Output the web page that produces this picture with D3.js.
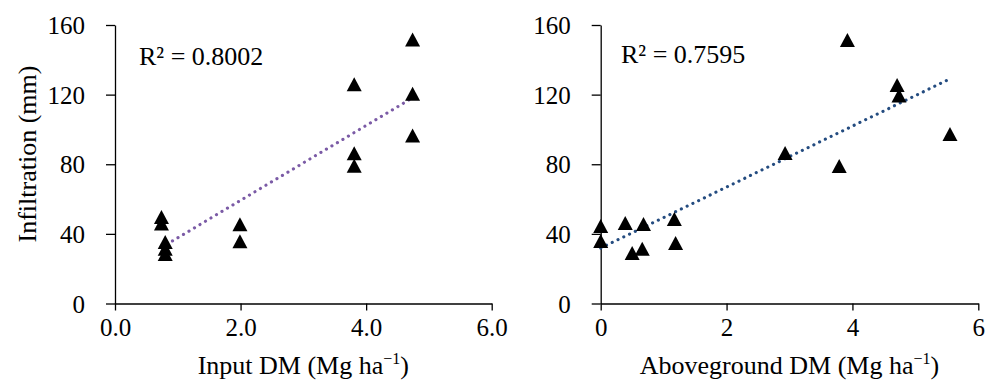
<!DOCTYPE html>
<html>
<head>
<meta charset="utf-8">
<script src="https://cdn.jsdelivr.net/npm/d3@7"></script>
<style>
  body { margin: 0; background: #fff; }
  svg text { font-family: "Liberation Serif", "Times New Roman", serif; fill: #000; }
</style>
</head>
<body>
<svg id="chart" width="1000" height="388"></svg>
<script>
// values
const inputDM = [0.74, 0.74, 0.80, 0.80, 0.80, 1.99, 1.99, 3.81, 3.81, 3.81, 4.74, 4.74, 4.74];
const infilInput = [49.7, 45.9, 35.3, 31.5, 28.4, 45.5, 35.7, 125.9, 86.3, 79.2, 151.6, 120.5, 96.5];
const abovegroundDM = [0, 0, 0.39, 0.68, 0.50, 0.66, 1.17, 1.19, 2.93, 3.79, 3.92, 4.71, 4.74, 5.55];
const infilAbove = [44.5, 35.9, 46.3, 45.7, 29.0, 31.5, 48.5, 34.8, 86.5, 79.0, 151.4, 125.6, 119.5, 97.4];
const yTicks = [0, 40, 80, 120, 160];
const xTicks = [0, 2, 4, 6];
const r2Labels = ["R\u00b2 = 0.8002", "R\u00b2 = 0.7595"];

const svg = d3.select("#chart");

const Panel = {
    draw: function(opts) {
        const x = d3.scaleLinear().domain([0, 6]).range(opts.xRange);
        const y = d3.scaleLinear().domain([0, 160]).range([303.5, 25]);
        const g = svg.append("g");

        // y axis
        const yAxis = g.append("g")
            .attr("transform", "translate(" + opts.xRange[0] + ",0)")
            .call(d3.axisLeft(y).tickValues(yTicks).tickSizeInner(9).tickSizeOuter(0).tickPadding(21));
        // x axis
        const xAxis = g.append("g")
            .attr("transform", "translate(0," + y(0) + ")")
            .call(d3.axisBottom(x).tickValues(xTicks).tickSizeInner(7).tickSizeOuter(0).tickPadding(8)
                .tickFormat(opts.xFormat));

        [yAxis, xAxis].forEach(function(a) {
            a.selectAll("path, line").attr("stroke", "#000").attr("stroke-width", 1.3);
            a.selectAll("text").style("font-size", "25px").style("font-family", "Liberation Serif");
        });
        yAxis.selectAll("text").attr("dy", "0.34em");

        // trendline from least squares
        const xs = opts.xs, ys = opts.ys;
        const mx = d3.mean(xs), my = d3.mean(ys);
        const slope = d3.sum(xs, (v, i) => (v - mx) * (ys[i] - my)) / d3.sum(xs, v => (v - mx) * (v - mx));
        const icpt = my - slope * mx;
        const ext = d3.extent(xs);
        g.append("path")
            .datum(ext)
            .attr("d", d3.line().x(v => x(v)).y(v => y(icpt + slope * v)))
            .attr("fill", "none")
            .attr("stroke", opts.trendColor)
            .attr("stroke-width", 3.1)
            .attr("stroke-linecap", "round")
            .attr("stroke-dasharray", "0.1 6.3");

        // triangle markers
        g.selectAll("path.pt")
            .data(xs)
            .enter()
            .append("path")
            .attr("class", "pt")
            .attr("transform", (v, i) => "translate(" + x(v) + "," + y(ys[i]) + ")")
            .attr("d", "M0,-7L7.5,7L-7.5,7Z")
            .attr("fill", "#000");

        // R squared
        g.append("text")
            .attr("x", opts.r2x)
            .attr("y", opts.r2y)
            .style("font-size", "26px")
            .text(opts.r2);

        // x title
        const t = g.append("text")
            .attr("x", (opts.xRange[0] + opts.xRange[1]) / 2)
            .attr("y", 374)
            .attr("text-anchor", "middle")
            .style("font-size", "26px");
        t.append("tspan").text(opts.xTitle + " (Mg ha");
        t.append("tspan").attr("dy", -10).style("font-size", "16px").text("\u22121");
        t.append("tspan").attr("dy", 10).text(")");
    }
};

Panel.draw({
    xRange: [115, 491.7], xs: inputDM, ys: infilInput, xFormat: d3.format(".1f"),
    trendColor: "#7b5ba6", r2: r2Labels[0], r2x: 139, r2y: 65, xTitle: "Input DM"
});
Panel.draw({
    xRange: [600.7, 978.3], xs: abovegroundDM, ys: infilAbove, xFormat: d3.format("d"),
    trendColor: "#244c80", r2: r2Labels[1], r2x: 621, r2y: 63, xTitle: "Aboveground DM"
});

// y title
svg.append("text")
    .attr("transform", "translate(36,154) rotate(-90)")
    .attr("text-anchor", "middle")
    .style("font-size", "26px")
    .text("Infiltration (mm)");
</script>
</body>
</html>
